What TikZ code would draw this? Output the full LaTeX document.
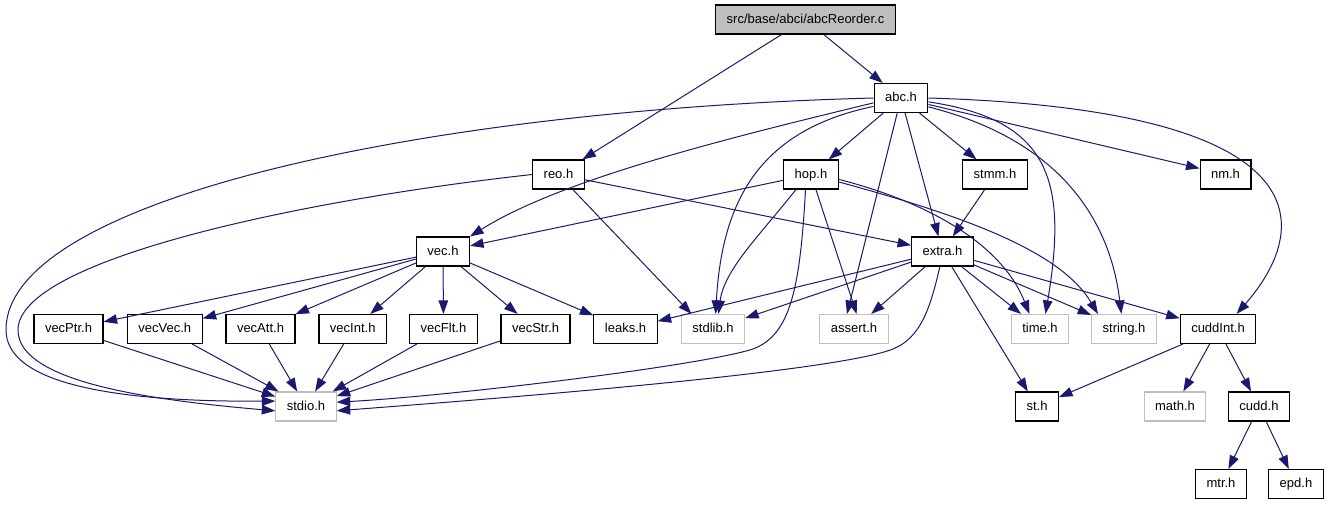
\documentclass[tikz,border=0pt]{standalone}
\usepackage{fontspec}
\setmainfont{Liberation Sans}
\usetikzlibrary{arrows.meta}
\definecolor{edgeblue}{HTML}{191970}
\definecolor{sysgray}{HTML}{BFBFBF}
\tikzset{
  hdr/.style={draw=black, fill=white, line width=1.1pt, minimum height=29pt, inner xsep=11pt, inner ysep=0pt,
    text height=9.5pt, text depth=2.5pt, font=\fontsize{13}{15}\selectfont},
  syshdr/.style={hdr, draw=sysgray},
  srcfile/.style={hdr, fill=sysgray},
  dep/.style={edgeblue, line width=1pt, -{Triangle[length=13.5pt,width=9.5pt]}}
}
\begin{document}
\begin{tikzpicture}[x=1pt, y=-1pt]
\useasboundingbox (0,0) rectangle (1328,504);
% Source file and first level
\node[srcfile] (root) at (805.5,19.5) {src/base/abci/abcReorder.c};
\node[hdr] (abc) at (901,98) {abc.h};
\node[hdr] (reo) at (558.5,174.5) {reo.h};
\node[hdr] (hop) at (811,174.5) {hop.h};
\node[hdr] (stmm) at (995,174.5) {stmm.h};
\node[hdr] (nm) at (1225.5,174.5) {nm.h};
\node[hdr] (vec) at (443,251.5) {vec.h};
\node[hdr] (extra) at (942.5,251.5) {extra.h};
% Headers row
\node[hdr] (vecPtr) at (68.5,329) {vecPtr.h};
\node[hdr] (vecVec) at (164.75,329) {vecVec.h};
\node[hdr] (vecAtt) at (260.5,329) {vecAtt.h};
\node[hdr] (vecInt) at (352.75,329) {vecInt.h};
\node[hdr] (vecFlt) at (443.5,329) {vecFlt.h};
\node[hdr] (vecStr) at (535.5,329) {vecStr.h};
\node[hdr] (leaks) at (625.5,329) {leaks.h};
\node[syshdr] (stdlib) at (713,329) {stdlib.h};
\node[syshdr] (assert) at (854,329) {assert.h};
\node[syshdr] (time) at (1040,329) {time.h};
\node[syshdr] (string) at (1124,329) {string.h};
\node[hdr] (cuddInt) at (1218,329) {cuddInt.h};
% Bottom rows
\node[syshdr] (stdio) at (306,406.5) {stdio.h};
\node[hdr] (st) at (1037,406.5) {st.h};
\node[syshdr] (math) at (1175,406.5) {math.h};
\node[hdr] (cudd) at (1259,406.5) {cudd.h};
\node[hdr] (mtr) at (1221,484) {mtr.h};
\node[hdr] (epd) at (1296,484) {epd.h};

% Straight dependencies
\draw[dep] (root) -- (abc);
\draw[dep] (root) -- (reo);
\draw[dep] (abc) -- (hop);
\draw[dep] (abc) -- (stmm);
\draw[dep] (abc) -- (nm);
\draw[dep] (abc) -- (extra);
\draw[dep] (abc) -- (assert.115);
\draw[dep] (reo) -- (extra);
\draw[dep] (reo) -- (stdlib.145);
\draw[dep] (hop) -- (vec);
\draw[dep] (hop) -- (assert.80);
\draw[dep] (stmm) -- (extra);
\foreach \v in {vecPtr,vecVec,vecAtt,vecInt,vecFlt,vecStr,leaks}
  \draw[dep] (vec) -- (\v);
\foreach \v in {vecPtr,vecVec,vecAtt,vecInt,vecFlt,vecStr}
  \draw[dep] (\v) -- (stdio);
\foreach \h in {leaks,stdlib,assert,time,string,cuddInt,st}
  \draw[dep] (extra) -- (\h);
\foreach \h in {st,math,cudd}
  \draw[dep] (cuddInt) -- (\h);
\draw[dep] (cudd) -- (mtr);
\draw[dep] (cudd) -- (epd);

% Curved dependencies
\draw[dep] (abc.west) .. controls (420,110) and (6,200) .. (6,330) .. controls (6,385) and (120,402) .. (stdio.170);
\draw[dep] (reo.west) .. controls (300,200) and (18,260) .. (18,330) .. controls (18,382) and (150,400) .. (stdio.188);
\draw[dep] (hop.250) .. controls (800,290) and (790,335) .. (753,349) .. controls (700,366) and (450,396) .. (stdio.8);
\draw[dep] (extra.260) .. controls (930,310) and (920,338) .. (893,349) .. controls (830,374) and (450,402) .. (stdio.352);
\draw[dep] (abc.197) .. controls (760,130) and (722,200) .. (stdlib.80);
\draw[dep] (hop.225) .. controls (760,235) and (724,270) .. (stdlib.70);
\draw[dep] (abc.190) .. controls (720,140) and (560,180) .. (vec.north east);
\draw[dep] (abc.352) .. controls (1050,120) and (1068,180) .. (time.70);
\draw[dep] (abc.342) .. controls (1060,140) and (1110,220) .. (string.100);
\draw[dep] (abc.east) .. controls (1330,110) and (1310,230) .. (cuddInt.39);
\draw[dep] (hop.350) .. controls (920,200) and (1000,240) .. (time.125);
\draw[dep] (hop.345) .. controls (960,215) and (1060,250) .. (string.150);
\end{tikzpicture}
\end{document}
